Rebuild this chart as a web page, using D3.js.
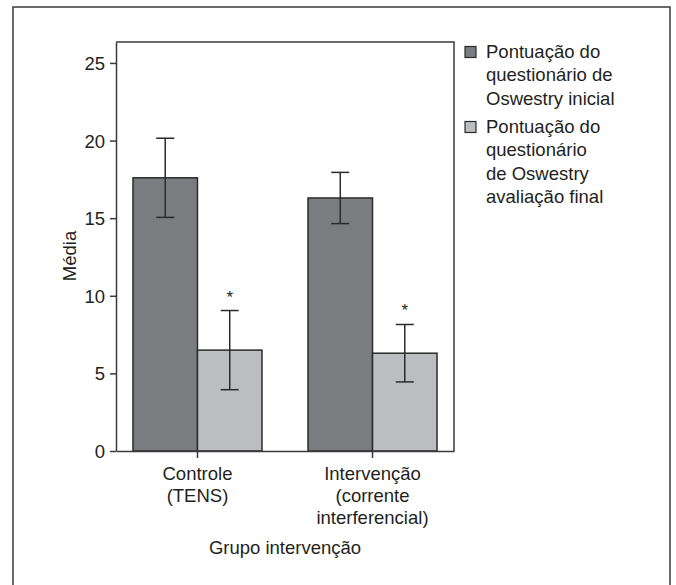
<!DOCTYPE html>
<html>
<head>
<meta charset="utf-8">
<script src="https://cdn.jsdelivr.net/npm/d3@7/dist/d3.min.js"></script>
<style>
  html, body { margin: 0; padding: 0; background: #fff; }
  svg text { font-family: "Liberation Sans", Arial, Helvetica, sans-serif; fill: #231f20; }
</style>
</head>
<body>
<svg id="chart" width="676" height="585"></svg>
<script>
// Oswestry questionnaire scores by intervention group
const groups = ["Controle", "Intervenção"];
const groupLabels = [["Controle", "(TENS)"], ["Intervenção", "(corrente", "interferencial)"]];
const seriesKeys = ["inicial", "final"];
const seriesLegend = [
  ["Pontuação do", "questionário de", "Oswestry inicial"],
  ["Pontuação do", "questionário", "de Oswestry", "avaliação final"]
];
const meanInitial = [17.6, 16.3];
const errInitial = [2.55, 1.65];
const meanFinal = [6.5, 6.3];
const errFinal = [2.55, 1.85];
const significant = [true, true];
const yTicks = [0, 5, 10, 15, 20, 25];
const colors = ["#7b7c80", "#bcbdc1"];

const svg = d3.select("#chart");
const stroke = "#2b2b2b";

// outer frame
svg.append("rect")
  .attr("x", 13).attr("y", 7).attr("width", 657).attr("height", 600)
  .attr("fill", "none").attr("stroke", "#3a3a3a").attr("stroke-width", 1.5);

const plot = { left: 116, right: 454, top: 42, bottom: 451 };

const y = d3.scaleLinear().domain([0, 26.35]).range([plot.bottom, plot.top]);
const x0 = d3.scaleBand().domain(groups).range([plot.left, plot.right])
  .paddingInner(0.263).paddingOuter(0.097);
const x1 = d3.scaleBand().domain(seriesKeys).range([0, x0.bandwidth()]);

const data = groups.map((g, i) => ({
  group: g,
  values: [
    { key: "inicial", mean: meanInitial[i], err: errInitial[i], star: false },
    { key: "final", mean: meanFinal[i], err: errFinal[i], star: significant[i] }
  ]
}));

// plot frame (top and right sides)
svg.append("path")
  .attr("d", `M${plot.left},${plot.top}H${plot.right}V${plot.bottom}`)
  .attr("fill", "none").attr("stroke", "#3a3a3a").attr("stroke-width", 1.5);

// bars
const gGroup = svg.append("g").selectAll("g").data(data).join("g")
  .attr("transform", d => `translate(${x0(d.group)},0)`);

gGroup.selectAll("rect").data(d => d.values).join("rect")
  .attr("x", d => x1(d.key))
  .attr("y", d => y(d.mean))
  .attr("width", x1.bandwidth())
  .attr("height", d => y(0) - y(d.mean))
  .attr("fill", (d, i) => colors[i])
  .attr("stroke", stroke).attr("stroke-width", 1.5);

// error bars
const capW = 18;
const eb = gGroup.selectAll("g.err").data(d => d.values).join("g").attr("class", "err")
  .attr("transform", d => `translate(${x1(d.key) + x1.bandwidth() / 2},0)`);
eb.append("line").attr("x1", 0).attr("x2", 0)
  .attr("y1", d => y(d.mean + d.err)).attr("y2", d => y(d.mean - d.err));
eb.append("line").attr("x1", -capW / 2).attr("x2", capW / 2)
  .attr("y1", d => y(d.mean + d.err)).attr("y2", d => y(d.mean + d.err));
eb.append("line").attr("x1", -capW / 2).attr("x2", capW / 2)
  .attr("y1", d => y(d.mean - d.err)).attr("y2", d => y(d.mean - d.err));
eb.selectAll("line").attr("stroke", stroke).attr("stroke-width", 1.5);

// significance markers
eb.filter(d => d.star).append("text")
  .attr("x", 0).attr("y", d => y(d.mean + d.err) - 8)
  .attr("text-anchor", "middle").attr("font-size", 17)
  .text("*");

// y axis
const yAxis = svg.append("g").attr("transform", `translate(${plot.left},0)`)
  .call(d3.axisLeft(y).tickValues(yTicks).tickSize(6).tickPadding(5).tickSizeOuter(0));
yAxis.select(".domain").attr("stroke", "#3a3a3a").attr("stroke-width", 1.5);
yAxis.selectAll(".tick line").attr("stroke", "#3a3a3a").attr("stroke-width", 1.5);
yAxis.selectAll(".tick text").attr("font-size", 18.5)
  .attr("font-family", "Liberation Sans, Arial, sans-serif").attr("fill", "#231f20")
  .attr("dy", "0.35em");

// x axis
const xAxis = svg.append("g").attr("transform", `translate(0,${plot.bottom})`)
  .call(d3.axisBottom(x0).tickSize(7).tickSizeOuter(0).tickFormat(""));
xAxis.select(".domain").attr("stroke", "#3a3a3a").attr("stroke-width", 1.5);
xAxis.selectAll(".tick line").attr("stroke", "#3a3a3a").attr("stroke-width", 1.5);

// multi-line category labels
groups.forEach((g, i) => {
  const t = svg.append("text")
    .attr("text-anchor", "middle").attr("font-size", 18.5)
    .attr("x", x0(g) + x0.bandwidth() / 2).attr("y", 479.5);
  groupLabels[i].forEach((line, j) => {
    t.append("tspan").attr("x", x0(g) + x0.bandwidth() / 2)
      .attr("dy", j === 0 ? 0 : 22).text(line);
  });
});

// axis titles
svg.append("text").attr("text-anchor", "middle").attr("font-size", 18.5)
  .attr("x", (plot.left + plot.right) / 2).attr("y", 554)
  .text("Grupo intervenção");

svg.append("text").attr("text-anchor", "middle").attr("font-size", 18.5)
  .attr("transform", `translate(76,256) rotate(-90)`)
  .text("Média");

// legend
const legendTop = [58, 133];
seriesLegend.forEach((lines, i) => {
  svg.append("rect")
    .attr("x", 465).attr("y", legendTop[i] - 11.5).attr("width", 11).attr("height", 11)
    .attr("fill", colors[i]).attr("stroke", stroke).attr("stroke-width", 1.2);
  const t = svg.append("text").attr("font-size", 18.5).attr("x", 486).attr("y", legendTop[i]);
  lines.forEach((line, j) => {
    t.append("tspan").attr("x", 486).attr("dy", j === 0 ? 0 : 23.4).text(line);
  });
});
</script>
</body>
</html>
